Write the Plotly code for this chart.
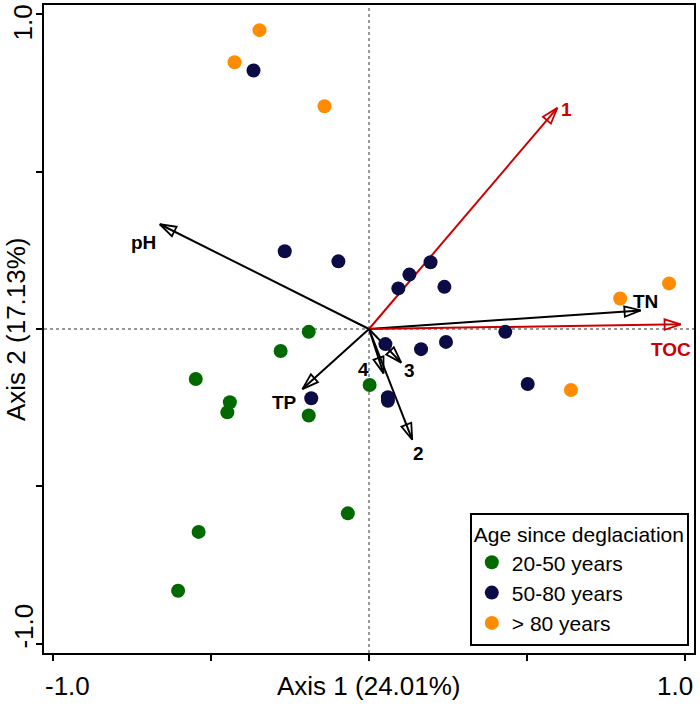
import plotly.graph_objects as go

# sample scores, per age class
green_x = [-0.191, -0.280, -0.549, -0.441, -0.449, -0.191, -0.067, -0.540, -0.605, 0.002]
green_y = [-0.009, -0.070, -0.159, -0.233, -0.265, -0.275, -0.586, -0.645, -0.832, -0.178]

navy_x = [-0.366, -0.267, -0.097, 0.195, 0.128, 0.093, 0.239, 0.432, 0.244, 0.052, 0.165, -0.183, 0.060, 0.060, 0.503]
navy_y = [0.822, 0.247, 0.215, 0.212, 0.173, 0.129, 0.134, -0.009, -0.041, -0.048, -0.064, -0.220, -0.217, -0.228, -0.175]

orange_x = [-0.347, -0.426, -0.141, 0.796, 0.951, 0.640]
orange_y = [0.950, 0.848, 0.708, 0.097, 0.145, -0.194]

age_classes = ["20-50 years", "50-80 years", "> 80 years"]

# biplot vectors (tips), origin at 0,0
vec_names = ["pH", "TN", "TOC", "1", "TP", "2", "3", "4"]
vec_x = [-0.663, 0.861, 0.988, 0.597, -0.211, 0.137, 0.102, 0.046]
vec_y = [0.333, 0.059, 0.015, 0.703, -0.191, -0.352, -0.107, -0.141]
vec_red = ["TOC", "1"]

# label offsets in px from the arrow tip
label_shift = {
    "pH": (-16, -18), "TN": (5, 9), "TOC": (-10, -25), "1": (9, -2),
    "TP": (-18, -13), "2": (6, -14), "3": (8, -8), "4": (-20, 4),
}

FONT = "Liberation Sans, Arial, sans-serif"
RED = "#cc0000"

fig = go.Figure()

for name, vx, vy in zip(vec_names, vec_x, vec_y):
    col = RED if name in vec_red else "black"
    fig.add_trace(go.Scatter(
        x=[0, vx], y=[0, vy], mode="lines+markers", showlegend=False, hoverinfo="skip",
        line=dict(color=col, width=2),
        marker=dict(symbol=["circle", "arrow-open"], size=[1, 17], opacity=[0, 1],
                    angleref="previous", color=col, line=dict(color=col, width=1.8)),
    ))
    dx, dy = label_shift[name]
    fig.add_annotation(x=vx, y=vy, text="<b>%s</b>" % name, showarrow=False,
                       xshift=dx, yshift=dy, font=dict(size=19, color=col, family=FONT))

for xs, ys, lab, col in [(green_x, green_y, age_classes[0], "#006a00"),
                         (navy_x, navy_y, age_classes[1], "#0b0b45"),
                         (orange_x, orange_y, age_classes[2], "#ff8c00")]:
    fig.add_trace(go.Scatter(x=xs, y=ys, mode="markers", name=lab,
                             marker=dict(size=14, color=col)))

# dotted cross through origin
fig.add_shape(type="line", x0=0, x1=0, y0=-1.03, y1=1.03, layer="below",
              line=dict(color="#333", width=1, dash="dot"))
fig.add_shape(type="line", x0=-1.03, x1=1.03, y0=0, y1=0, layer="below",
              line=dict(color="#333", width=1, dash="dot"))

ticks = [-1, -0.5, 0, 0.5, 1]
fig.update_xaxes(range=[-1.03, 1.03], tickvals=ticks, showticklabels=False, ticks="outside",
                 ticklen=6, tickwidth=2, tickcolor="black", showline=True, linewidth=2,
                 linecolor="black", mirror=True, showgrid=False, zeroline=False)
fig.update_yaxes(range=[-1.03, 1.03], tickvals=ticks, showticklabels=False, ticks="outside",
                 ticklen=6, tickwidth=2, tickcolor="black", showline=True, linewidth=2,
                 linecolor="black", mirror=True, showgrid=False, zeroline=False)

# tick labels and axis titles
tf = dict(size=26, color="black", family=FONT)
fig.add_annotation(x=-1, y=0, yref="paper", yanchor="top", yshift=-16, xshift=14,
                   text="-1.0", showarrow=False, font=tf)
fig.add_annotation(x=1, y=0, yref="paper", yanchor="top", yshift=-16, xshift=-10,
                   text="1.0", showarrow=False, font=tf)
fig.add_annotation(x=0, y=-1, xref="paper", xanchor="right", xshift=-3, yshift=17,
                   text="-1.0", showarrow=False, textangle=-90, font=tf)
fig.add_annotation(x=0, y=1, xref="paper", xanchor="right", xshift=-4, yshift=-8,
                   text="1.0", showarrow=False, textangle=-90, font=tf)
fig.add_annotation(x=0, y=0, yref="paper", yanchor="top", yshift=-16,
                   text="Axis 1 (24.01%)", showarrow=False, font=tf)
fig.add_annotation(x=0, y=0, xref="paper", xanchor="right", xshift=-11,
                   text="Axis 2 (17.13%)", showarrow=False, textangle=-90, font=tf)

fig.update_layout(
    width=700, height=705,
    margin=dict(l=44, r=6, t=3, b=52),
    paper_bgcolor="white", plot_bgcolor="white",
    font=dict(family=FONT, color="black"),
    legend=dict(title=dict(text="Age since deglaciation", font=dict(size=21)),
                font=dict(size=21), x=0.992, y=0.011, xanchor="right", yanchor="bottom",
                bordercolor="black", borderwidth=2, bgcolor="white",
                itemwidth=30, tracegroupgap=0),
)

# the page's default body margin would push the chart off the window
fig.write_html("out.html", config={"displayModeBar": False},
               post_script="document.body.style.margin='0';")
